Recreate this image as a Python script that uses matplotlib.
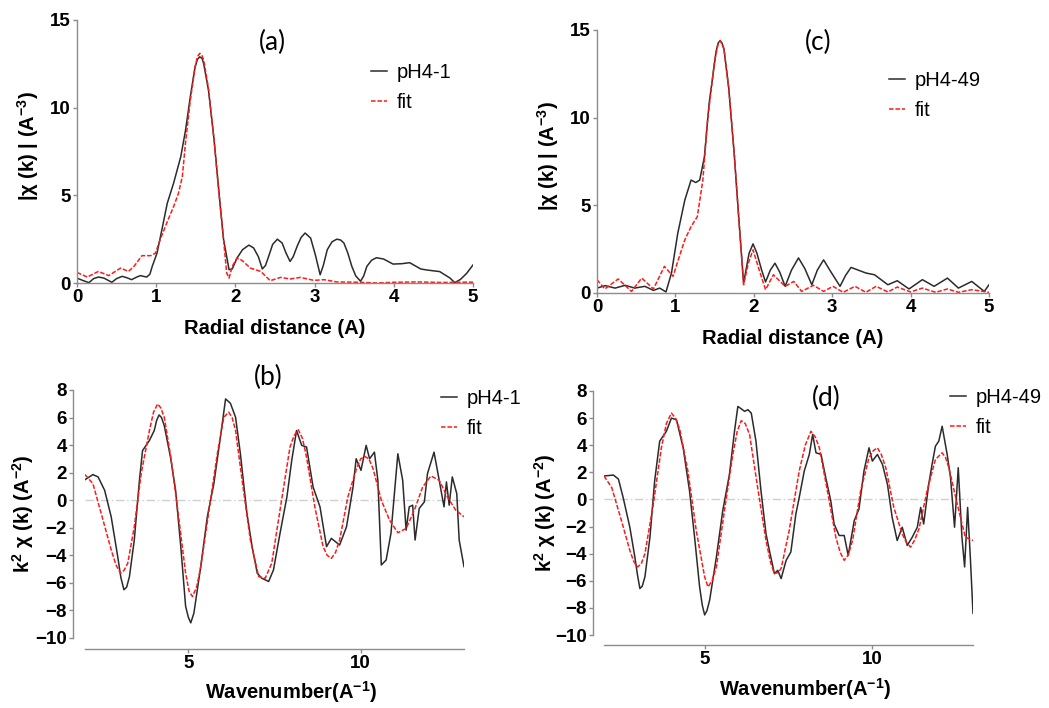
import matplotlib.pyplot as plt
import numpy as np

plt.rcParams['font.family'] = ['Liberation Sans', 'DejaVu Sans']
plt.rcParams['mathtext.fontset'] = 'custom'
plt.rcParams['mathtext.rm'] = 'Liberation Sans:bold'
plt.rcParams['mathtext.it'] = 'Liberation Sans:bold'
plt.rcParams['mathtext.bf'] = 'Liberation Sans:bold'

# ---- (a) pH4-1, R space
a_r = [0, 0.07, 0.15, 0.21, 0.27, 0.34, 0.44, 0.5, 0.57, 0.63, 0.69, 0.75, 0.80, 0.88, 0.92, 0.95,
       1.01, 1.07, 1.14, 1.22, 1.31, 1.37, 1.43, 1.49, 1.52, 1.55, 1.58, 1.60, 1.66, 1.73, 1.79,
       1.85, 1.92, 1.96, 2.02, 2.09, 2.17, 2.23, 2.29, 2.34, 2.38, 2.42, 2.47, 2.53, 2.59, 2.64,
       2.69, 2.73, 2.78, 2.83, 2.88, 2.95, 3.01, 3.07, 3.11, 3.16, 3.22, 3.28, 3.33, 3.37, 3.42,
       3.47, 3.52, 3.58, 3.62, 3.66, 3.72, 3.78, 3.87, 3.99, 4.1, 4.2, 4.34, 4.42, 4.58, 4.71,
       4.77, 4.84, 4.92, 5.0]
a_mag = [0.28, 0.15, 0.02, 0.25, 0.34, 0.28, 0.04, 0.25, 0.38, 0.3, 0.19, 0.33, 0.42, 0.34, 0.5, 0.95,
         1.7, 3.0, 4.55, 5.7, 7.2, 8.7, 10.6, 12.3, 12.75, 12.9, 12.8, 12.5, 11.0, 8.2, 5.3,
         2.5, 0.76, 0.8, 1.42, 1.9, 2.16, 2.0, 1.5, 0.8, 1.0, 1.52, 2.2, 2.5, 2.28, 1.7,
         1.23, 1.5, 2.1, 2.6, 2.85, 2.56, 1.6, 0.47, 1.0, 1.9, 2.35, 2.5, 2.45, 2.28, 1.7,
         0.95, 0.4, 0.1, 0.4, 0.95, 1.3, 1.44, 1.37, 1.08, 1.1, 1.16, 0.8, 0.74, 0.65, 0.28,
         0.02, 0.2, 0.55, 1.03]
a_fit_r = [0, 0.13, 0.27, 0.40, 0.55, 0.65, 0.72, 0.82, 0.93, 0.99, 1.05, 1.14, 1.22, 1.28, 1.33,
           1.37, 1.43, 1.49, 1.52, 1.55, 1.58, 1.60, 1.66, 1.73, 1.79, 1.85, 1.89, 1.92, 1.96,
           2.02, 2.08, 2.19, 2.32, 2.44, 2.57, 2.69, 2.82, 2.99, 3.12, 3.28, 3.58, 3.79, 4.0,
           4.3, 4.6, 5.0]
a_fit = [0.6, 0.34, 0.66, 0.42, 0.85, 0.66, 0.95, 1.56, 1.56, 1.7, 2.47, 3.5, 4.36, 5.1, 6.07,
         8.0, 10.4, 12.3, 12.9, 13.1, 12.95, 12.7, 11.1, 8.2, 5.2, 2.5, 0.57, 0.28, 0.95,
         1.42, 1.3, 0.85, 0.66, 0.13, 0.32, 0.23, 0.32, 0.15, 0.19, 0.06, 0.04, 0.0, 0.04,
         0.06, 0.03, 0.05]

# ---- (c) pH4-49, R space
c_r = [0, 0.105, 0.23, 0.36, 0.48, 0.61, 0.72, 0.80, 0.88, 0.95, 1.03, 1.12, 1.20, 1.26, 1.31,
       1.37, 1.43, 1.52, 1.545, 1.57, 1.595, 1.62, 1.68, 1.75, 1.81, 1.87, 1.94, 1.99, 2.04,
       2.10, 2.15, 2.21, 2.27, 2.33, 2.40, 2.48, 2.57, 2.65, 2.74, 2.81, 2.89, 2.97, 3.10,
       3.17, 3.24, 3.43, 3.54, 3.71, 3.83, 3.98, 4.15, 4.30, 4.47, 4.61, 4.78, 4.94, 5.0]
c_mag = [0.28, 0.42, 0.28, 0.44, 0.28, 0.38, 0.15, 0.28, 0.06, 1.14, 3.4, 5.3, 6.44, 6.3, 6.44,
         7.77, 10.8, 13.8, 14.25, 14.4, 14.25, 13.9, 11.7, 7.95, 4.17, 0.57, 2.27, 2.8, 2.27,
         1.3, 0.63, 1.3, 1.7, 1.2, 0.38, 1.3, 2.0, 1.4, 0.47, 1.3, 1.89, 1.3, 0.38,
         1.0, 1.46, 1.14, 1.04, 0.47, 0.7, 0.23, 0.76, 0.38, 0.85, 0.28, 0.66, 0.09, 0.47]
c_fit_r = [0, 0.10, 0.27, 0.44, 0.57, 0.72, 0.86, 0.97, 1.03, 1.12, 1.20, 1.28, 1.35, 1.41, 1.50,
           1.545, 1.57, 1.595, 1.62, 1.68, 1.75, 1.81, 1.87, 1.93, 1.99, 2.07, 2.15, 2.25, 2.40,
           2.51, 2.61, 2.76, 2.89, 3.01, 3.14, 3.29, 3.43, 3.56, 3.71, 3.83, 4.0, 4.15, 4.32,
           4.47, 4.61, 4.78, 5.0]
c_fit = [0.76, 0.23, 0.8, 0.09, 0.85, 0.23, 1.52, 0.95, 1.8, 3.03, 3.79, 4.36, 6.44, 9.85, 13.26,
         14.2, 14.4, 14.2, 13.9, 11.7, 7.95, 4.17, 0.47, 1.7, 2.46, 1.3, 0.19, 1.04, 0.38,
         0.66, 0.09, 0.44, 0.09, 0.38, 0.04, 0.38, 0.04, 0.38, 0.06, 0.34, 0.06, 0.28, 0.04,
         0.23, 0.04, 0.19, 0.04]

# ---- (b) pH4-1, k space
b_k = [2.0, 2.23, 2.38, 2.57, 2.76, 2.95, 3.04, 3.13, 3.21, 3.29, 3.43, 3.58, 3.67, 3.87, 4.01,
       4.08, 4.15, 4.22, 4.30, 4.49, 4.63, 4.78, 4.92, 5.0, 5.07, 5.16, 5.36, 5.55, 5.74, 5.93,
       6.08, 6.22, 6.37, 6.51, 6.70, 6.85, 7.0, 7.13, 7.33, 7.47, 7.66, 7.86, 8.0, 8.14, 8.29,
       8.43, 8.62, 8.82, 9.01, 9.15, 9.39, 9.59, 9.78, 9.87, 10.01, 10.16, 10.26, 10.4, 10.5,
       10.6, 10.74, 10.88, 11.08, 11.22, 11.32, 11.41, 11.51, 11.58, 11.7, 11.85, 11.94, 12.13,
       12.28, 12.42, 12.49, 12.57, 12.66, 12.79, 12.86, 13.0]
b_chi = [1.49, 1.86, 1.69, 0.72, -1.2, -4.1, -5.6, -6.5, -6.3, -5.54, -2.9, 1.45, 3.6, 4.34, 5.06,
         5.8, 6.19, 6.0, 5.42, 3.01, 0.72, -3.37, -7.7, -8.5, -8.9, -8.2, -4.8, -1.2, 1.2, 4.58,
         7.35, 7.04, 6.02, 3.37, -0.96, -3.37, -5.3, -5.66, -5.9, -5.06, -2.41, 0.24, 2.89, 5.06,
         3.98, 3.86, 0.96, -0.48, -3.37, -2.77, -3.25, -1.93, 0.96, 3.01, 2.17, 3.98, 3.01, 3.49,
         1.45, -4.7, -4.34, -2.41, 3.37, 1.45, -2.17, -0.48, -0.36, -2.89, -0.6, -0.12, 1.93, 3.49,
         1.45, -0.48, 1.33, -0.36, 1.69, 0.48, -2.89, -4.82]
b_fit_k = [2.0, 2.23, 2.47, 2.76, 2.9, 3.03, 3.13, 3.24, 3.43, 3.63, 3.87, 3.99, 4.11, 4.2, 4.30,
           4.49, 4.68, 4.92, 5.02, 5.12, 5.24, 5.36, 5.60, 5.84, 6.03, 6.17, 6.27, 6.37, 6.56,
           6.80, 7.04, 7.23, 7.42, 7.66, 7.95, 8.07, 8.19, 8.31, 8.43, 8.67, 8.91, 9.03, 9.15,
           9.27, 9.39, 9.63, 9.88, 10.0, 10.12, 10.24, 10.36, 10.6, 10.84, 11.08, 11.32, 11.56,
           11.8, 12.04, 12.28, 12.52, 12.76, 13.0]
b_fit = [1.86, 1.2, -0.96, -3.6, -4.7, -5.3, -5.1, -4.58, -1.93, 1.93, 5.06, 6.4, 6.99, 6.7, 6.02,
         3.13, -0.48, -5.3, -6.6, -6.99, -6.3, -4.82, -0.72, 3.37, 6.02, 6.39, 6.0, 5.06, 1.45,
         -2.89, -5.54, -5.66, -4.58, -0.72, 3.86, 4.7, 5.11, 4.5, 3.13, -0.48, -3.37, -4.0, -4.22,
         -3.8, -2.89, 0.24, 2.29, 3.0, 3.18, 3.0, 2.29, 0.0, -1.45, -2.36, -2.05, -0.72,
         0.96, 1.76, 1.45, 0.24, -0.72, -1.2]

# ---- (d) pH4-49, k space
d_k = [2.0, 2.28, 2.43, 2.57, 2.77, 2.92, 3.0, 3.07, 3.14, 3.22, 3.37, 3.51, 3.66, 3.86, 4.01,
       4.16, 4.36, 4.55, 4.70, 4.85, 4.93, 5.0, 5.07, 5.15, 5.35, 5.54, 5.74, 5.89, 5.99, 6.09,
       6.19, 6.29, 6.39, 6.53, 6.68, 6.83, 6.93, 7.08, 7.18, 7.28, 7.43, 7.57, 7.72, 7.82, 7.97,
       8.12, 8.22, 8.32, 8.47, 8.61, 8.76, 8.86, 9.01, 9.16, 9.28, 9.46, 9.60, 9.75, 9.90, 10.0,
       10.15, 10.3, 10.45, 10.59, 10.74, 10.89, 11.04, 11.19, 11.34, 11.44, 11.53, 11.68, 11.78,
       11.88, 11.98, 12.08, 12.23, 12.33, 12.45, 12.56, 12.67, 12.75, 12.84, 12.92, 13.0]
d_chi = [1.73, 1.8, 1.5, 0.15, -2.05, -4.25, -5.6, -6.57, -6.4, -5.71, -2.78, 1.37, 4.3, 5.03, 6.0,
         5.88, 3.81, 0.63, -2.78, -6.45, -7.8, -8.52, -8.2, -7.42, -4.25, -0.83, 1.86, 5.03, 6.86,
         6.69, 6.5, 6.62, 6.37, 4.3, 0.63, -2.54, -3.76, -5.47, -5.23, -5.84, -4.49, -3.88, -1.07,
         0.15, 2.1, 3.32, 4.79, 3.44, 3.32, 1.61, -0.1, -1.81, -2.66, -2.66, -4.13, -1.56, -0.71,
         2.1, 3.81, 2.83, 3.32, 2.59, 1.12, -1.32, -3.03, -2.05, -3.39, -2.78, -2.05, -0.59, -1.81,
         1.12, 2.59, 3.93, 4.3, 5.4, 3.32, 1.61, -2.05, 2.34, -2.78, -4.98, -0.59, -4.25, -8.4]
d_fit_k = [2.0, 2.23, 2.52, 2.77, 2.89, 3.0, 3.11, 3.22, 3.47, 3.71, 3.86, 4.01, 4.13, 4.26, 4.5,
           4.75, 5.0, 5.1, 5.22, 5.35, 5.59, 5.84, 5.97, 6.09, 6.21, 6.34, 6.58, 6.83, 6.96, 7.08,
           7.18, 7.28, 7.52, 7.82, 8.0, 8.17, 8.3, 8.42, 8.66, 8.91, 9.04, 9.16, 9.28, 9.41, 9.65,
           9.9, 10.03, 10.15, 10.27, 10.4, 10.64, 10.89, 11.02, 11.14, 11.26, 11.39, 11.63, 11.88,
           12.08, 12.18, 12.28, 12.53, 12.77, 13.0]
d_fit = [1.73, 0.88, -1.56, -3.76, -4.6, -4.98, -4.75, -4.0, -0.34, 3.81, 5.6, 6.37, 6.0, 5.15, 2.1,
         -2.3, -5.71, -6.45, -6.0, -4.98, -0.83, 3.32, 5.0, 5.81, 5.6, 4.79, 0.88, -3.03, -4.6,
         -5.47, -5.4, -5.1, -2.3, 2.1, 4.0, 5.03, 4.6, 3.81, 0.63, -2.78, -3.9, -4.49, -4.1, -3.03,
         0.63, 3.08, 3.6, 3.81, 3.3, 2.34, -0.59, -2.54, -3.2, -3.52, -3.0, -2.17, 0.63, 2.95,
         3.44, 3.1, 2.34, -0.34, -2.78, -3.03]

W, H = 1049, 708
fig = plt.figure(figsize=(W / 100, H / 100), dpi=100)


def px_axes(l, t, r, b):
    return fig.add_axes([l / W, 1 - b / H, (r - l) / W, (b - t) / H])


def style(ax):
    for s in ['top', 'right']:
        ax.spines[s].set_visible(False)
    for s in ['left', 'bottom']:
        ax.spines[s].set_color('#8c8c8c')
        ax.spines[s].set_linewidth(1.0)
    ax.tick_params(length=3, width=1, color='#8c8c8c', pad=1.5, labelsize=13.5)
    for lab in ax.get_xticklabels() + ax.get_yticklabels():
        lab.set_fontweight('bold')


def legend(ax, x, y):
    ax.legend(loc='upper left', bbox_to_anchor=(x / W, 1 - y / H), bbox_transform=fig.transFigure,
              frameon=False, handlelength=0.8, handletextpad=0.5, labelspacing=0.55,
              borderaxespad=0, borderpad=0, prop={'family': 'Liberation Sans', 'size': 14.5})


black = '#2b2b2b'
red = '#ff1a1a'
dash = (0, (3, 1.2))
lbl = dict(fontsize=14.5, fontweight='bold')
ttl = dict(fontsize=19, family=['Lato', 'DejaVu Sans'], ha='center', va='center')
r_ylabel = '|χ (k) | (A$^{-3}$)'
k_ylabel = 'k$^{2}$ χ (k) (A$^{-2}$)'

# (a)
ax = px_axes(77, 20, 473, 283)
ax.plot(a_r, a_mag, color=black, lw=1.1, label='pH4-1')
ax.plot(a_fit_r, a_fit, color=red, lw=1.1, ls=dash, label='fit')
ax.set_xlim(0, 5)
ax.set_ylim(0, 15)
ax.set_xticks([0, 1, 2, 3, 4, 5])
ax.set_yticks([0, 5, 10, 15])
style(ax)
ax.set_xlabel('Radial distance (A)', **lbl)
ax.set_ylabel(r_ylabel, **lbl)
ax.xaxis.set_label_coords(0.5, -0.135)
ax.yaxis.set_label_coords(-0.092, 0.52)
legend(ax, 371, 63)
fig.text(272 / W, 1 - 42 / H, '(a)', **ttl)

# (c)
ax = px_axes(597, 30, 989, 293)
ax.plot(c_r, c_mag, color=black, lw=1.1, label='pH4-49')
ax.plot(c_fit_r, c_fit, color=red, lw=1.1, ls=dash, label='fit')
ax.set_xlim(0, 5)
ax.set_ylim(0, 15)
ax.set_xticks([0, 1, 2, 3, 4, 5])
ax.set_yticks([0, 5, 10, 15])
style(ax)
ax.set_xlabel('Radial distance (A)', **lbl)
ax.set_ylabel(r_ylabel, **lbl)
ax.xaxis.set_label_coords(0.5, -0.135)
ax.yaxis.set_label_coords(-0.092, 0.52)
legend(ax, 889, 71)
fig.text(818 / W, 1 - 42 / H, '(c)', **ttl)

# (b)
ax = px_axes(85, 390, 464, 638)
ax.axhline(0, color='#d0d0d0', lw=1, ls=(0, (6, 2, 1, 2)), zorder=0)
ax.plot(b_k, b_chi, color=black, lw=1.1, label='pH4-1')
ax.plot(b_fit_k, b_fit, color=red, lw=1.1, ls=dash, label='fit')
ax.set_xlim(2, 13)
ax.set_ylim(-10, 8)
ax.set_xticks([5, 10])
ax.set_yticks(np.arange(-10, 9, 2))
ax.spines['left'].set_position(('outward', 8.6))
ax.spines['bottom'].set_position(('outward', 7.9))
style(ax)
ax.set_xlabel('Wavenumber(A$^{-1}$)', **lbl)
ax.set_ylabel(k_ylabel, **lbl)
ax.xaxis.set_label_coords(0.545, -0.165)
ax.yaxis.set_label_coords(-0.128, 0.5)
legend(ax, 441, 389)
fig.text(268 / W, 1 - 377 / H, '(b)', **ttl)

# (d)
ax = px_axes(604, 391, 973, 635)
ax.axhline(0, color='#d0d0d0', lw=1, ls=(0, (6, 2, 1, 2)), zorder=0)
ax.plot(d_k, d_chi, color=black, lw=1.1, label='pH4-49')
ax.plot(d_fit_k, d_fit, color=red, lw=1.1, ls=dash, label='fit')
ax.set_xlim(2, 13)
ax.set_ylim(-10, 8)
ax.set_xticks([5, 10])
ax.set_yticks(np.arange(-10, 9, 2))
ax.spines['left'].set_position(('outward', 7.9))
ax.spines['bottom'].set_position(('outward', 7.2))
style(ax)
ax.set_xlabel('Wavenumber(A$^{-1}$)', **lbl)
ax.set_ylabel(k_ylabel, **lbl)
ax.xaxis.set_label_coords(0.545, -0.168)
ax.yaxis.set_label_coords(-0.125, 0.5)
legend(ax, 950, 388)
fig.text(826 / W, 1 - 398 / H, '(d)', **ttl)

fig.savefig('out.png', dpi=100)
